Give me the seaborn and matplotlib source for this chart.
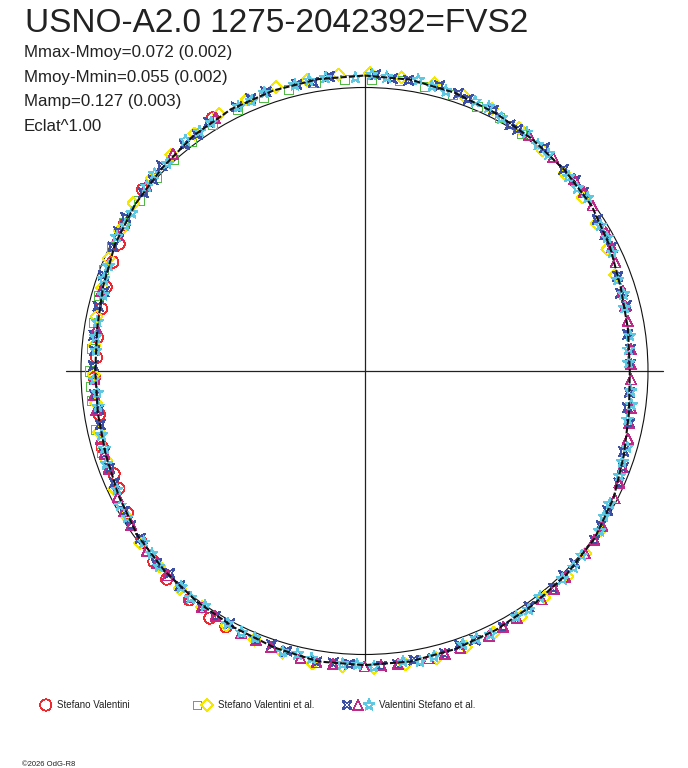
import numpy as np
import pandas as pd
import matplotlib
matplotlib.use("Agg")
import matplotlib.pyplot as plt
from matplotlib.path import Path
from matplotlib.patches import Circle
import seaborn as sns

# ---------------- data (phase, magnitude relative to mean) ----------------
TITLE = "USNO-A2.0 1275-2042392=FVS2"
STATS = ["Mmax-Mmoy=0.072 (0.002)", "Mmoy-Mmin=0.055 (0.002)",
         "Mamp=0.127 (0.003)", "Eclat^1.00"]
LEGEND_LABELS = ["Stefano Valentini", "Stefano Valentini et al.",
                 "Valentini Stefano et al."]
COPYRIGHT = "©2026 OdG-R8"

# fitted light curve
curve_phase = [0.000, 0.025, 0.050, 0.075, 0.100, 0.125, 0.150, 0.175, 0.200, 0.225,
               0.250, 0.275, 0.300, 0.325, 0.350, 0.375, 0.400, 0.425, 0.450, 0.475,
               0.500, 0.525, 0.550, 0.575, 0.600, 0.625, 0.650, 0.675, 0.700, 0.725,
               0.750, 0.775, 0.800, 0.825, 0.850, 0.875, 0.900, 0.925, 0.950, 0.975]
curve_mag = [-0.045, -0.043, -0.034, -0.022, -0.010, 0.000, 0.010, 0.032, 0.055, 0.066,
             0.072, 0.062, 0.042, 0.015, -0.004, -0.012, -0.018, -0.026, -0.034, -0.040,
             -0.040, -0.040, -0.028, -0.016, -0.006, 0.003, 0.012, 0.030, 0.045, 0.053,
             0.056, 0.050, 0.034, 0.014, 0.000, -0.012, -0.028, -0.039, -0.043, -0.045]

# Stefano Valentini (red circles)
sv_phase = [0.579, 0.589, 0.604, 0.621, 0.633, 0.646, 0.664, 0.679, 0.688, 0.705, 0.724,
            0.746, 0.758, 0.770, 0.787, 0.800, 0.815, 0.826, 0.837, 0.859, 0.914]
sv_mag = [-0.028, -0.030, -0.018, -0.014, -0.002, 0.008, 0.028, 0.044, 0.050, 0.040, 0.058,
          0.052, 0.060, 0.056, 0.052, 0.046, 0.036, 0.028, 0.008, -0.012, -0.044]

# Stefano Valentini et al. (green squares)
sva_g_phase = [0.702, 0.716, 0.733, 0.741, 0.750, 0.763, 0.778, 0.794, 0.809, 0.823,
               0.838, 0.853, 0.869, 0.883, 0.897, 0.912, 0.928, 0.944, 0.958, 0.973,
               0.989, 0.004, 0.019, 0.033, 0.049, 0.064, 0.078, 0.093]
sva_g_mag = [0.033, 0.034, 0.034, 0.037, 0.035, 0.039, 0.031, 0.026, 0.012, 0.006,
             0.001, 0.003, -0.003, -0.008, -0.015, -0.025, -0.028, -0.032, -0.031, -0.036,
             -0.033, -0.031, -0.034, -0.027, -0.025, -0.016, -0.013, -0.003]

# Stefano Valentini et al. (yellow diamonds)
sva_y_phase = [0.003, 0.020, 0.038, 0.055, 0.072, 0.090, 0.108, 0.126, 0.143, 0.160,
               0.176, 0.192, 0.344, 0.360, 0.376, 0.393, 0.410, 0.427, 0.444, 0.461,
               0.478, 0.495, 0.512, 0.528, 0.545, 0.562, 0.579, 0.596, 0.612, 0.629,
               0.646, 0.663, 0.680, 0.697, 0.714, 0.731, 0.748, 0.765, 0.782, 0.799,
               0.816, 0.833, 0.850, 0.867, 0.884, 0.901, 0.918, 0.935, 0.952, 0.969, 0.986]
sva_y_mag = [-0.053, -0.047, -0.047, -0.035, -0.029, -0.017, -0.001, 0.009, 0.019, 0.033,
             0.046, 0.060, -0.005, -0.011, -0.020, -0.021, -0.030, -0.032, -0.040, -0.047,
             -0.047, -0.051, -0.048, -0.050, -0.037, -0.026, -0.022, -0.011, -0.008, 0.000,
             0.003, 0.018, 0.027, 0.041, 0.044, 0.051, 0.050, 0.048, 0.039, 0.032,
             0.015, 0.006, -0.008, -0.013, -0.025, -0.032, -0.044, -0.046, -0.052, -0.049, -0.052]

# Valentini Stefano et al. (blue)
vsa_b_phase = [0.006, 0.024, 0.041, 0.058, 0.073, 0.090, 0.108, 0.124, 0.141, 0.158,
               0.176, 0.193, 0.211, 0.228, 0.246, 0.263, 0.281, 0.298, 0.316, 0.333,
               0.351, 0.368, 0.386, 0.403, 0.421, 0.438, 0.456, 0.473, 0.491, 0.508,
               0.526, 0.543, 0.561, 0.578, 0.596, 0.613, 0.631, 0.648, 0.666, 0.683,
               0.701, 0.718, 0.736, 0.753, 0.771, 0.788, 0.806, 0.823, 0.841, 0.858,
               0.876, 0.893, 0.911, 0.928, 0.946, 0.963, 0.981,
               0.015, 0.052, 0.085, 0.133, 0.168, 0.203, 0.237, 0.272, 0.307, 0.342,
               0.377, 0.412, 0.447, 0.482, 0.517, 0.552, 0.587, 0.622, 0.657, 0.692,
               0.727, 0.762, 0.797, 0.832, 0.867, 0.902, 0.937, 0.972]
vsa_b_mag = [-0.049, -0.040, -0.043, -0.028, -0.028, -0.011, -0.014, 0.001, 0.003, 0.022,
             0.029, 0.051, 0.054, 0.070, 0.069, 0.071, 0.052, 0.047, 0.021, 0.011,
             -0.010, -0.007, -0.017, -0.015, -0.030, -0.028, -0.039, -0.037, -0.046, -0.038,
             -0.043, -0.027, -0.028, -0.012, -0.012, 0.001, -0.001, 0.015, 0.020, 0.037,
             0.040, 0.054, 0.050, 0.048, 0.041, 0.036, 0.020, 0.012, -0.002, -0.002,
             -0.018, -0.021, -0.037, -0.038, -0.047, -0.041, -0.049,
             -0.038, -0.036, -0.009, -0.003, 0.028, 0.062, 0.066, 0.071, 0.028, 0.004,
             -0.007, -0.025, -0.025, -0.046, -0.038, -0.021, -0.014, 0.010, 0.011, 0.042,
             0.059, 0.050, 0.044, 0.004, -0.006, -0.023, -0.044, -0.037]

# Valentini Stefano et al. (magenta triangles)
vsa_m_phase = [0.097, 0.115, 0.132, 0.150, 0.167, 0.185, 0.202, 0.220, 0.237, 0.255,
               0.272, 0.290, 0.307, 0.325, 0.342, 0.360, 0.377, 0.395, 0.412, 0.430,
               0.447, 0.465, 0.482, 0.500, 0.517, 0.535, 0.552, 0.570, 0.587, 0.605,
               0.622, 0.640, 0.657, 0.675, 0.692, 0.710, 0.727, 0.745, 0.775, 0.797,
               0.830, 0.862, 0.885, 0.915,
               0.141, 0.176, 0.211, 0.246, 0.281, 0.316, 0.351, 0.386, 0.421, 0.456,
               0.491, 0.526, 0.561, 0.596, 0.631, 0.666, 0.701, 0.736]
vsa_m_mag = [-0.015, -0.006, -0.003, 0.007, 0.020, 0.039, 0.051, 0.061, 0.063, 0.066,
             0.057, 0.045, 0.031, 0.010, -0.001, -0.011, -0.015, -0.022, -0.025, -0.034,
             -0.035, -0.042, -0.043, -0.045, -0.042, -0.039, -0.030, -0.023, -0.013, -0.008,
             -0.001, 0.003, 0.015, 0.026, 0.037, 0.043, 0.049, 0.052, 0.048, 0.032,
             0.008, -0.010, -0.023, -0.038,
             0.002, 0.027, 0.058, 0.066, 0.054, 0.019, -0.006, -0.020, -0.028, -0.041,
             -0.042, -0.045, -0.026, -0.014, 0.003, 0.019, 0.042, 0.048]

# Valentini Stefano et al. (cyan stars)
vsa_c_phase = [0.012, 0.029, 0.045, 0.062, 0.079, 0.095, 0.112, 0.129, 0.145, 0.162,
               0.179, 0.195, 0.212, 0.229, 0.245, 0.262, 0.279, 0.295, 0.312, 0.329,
               0.345, 0.362, 0.379, 0.395, 0.412, 0.429, 0.445, 0.462, 0.479, 0.495,
               0.512, 0.529, 0.545, 0.562, 0.579, 0.595, 0.612, 0.629, 0.645, 0.662,
               0.679, 0.695, 0.712, 0.729, 0.745, 0.762, 0.779, 0.795, 0.812, 0.829,
               0.845, 0.862, 0.879, 0.895, 0.912, 0.929, 0.945, 0.962, 0.979, 0.995,
               0.004, 0.037, 0.070, 0.104, 0.137, 0.170, 0.204, 0.237, 0.270, 0.304,
               0.337, 0.370, 0.404, 0.437, 0.470, 0.504, 0.537, 0.570, 0.604, 0.637,
               0.670, 0.704, 0.737, 0.770, 0.804, 0.837, 0.870, 0.904, 0.937, 0.970]
vsa_c_mag = [-0.042, -0.047, -0.030, -0.030, -0.016, -0.019, -0.004, 0.007, 0.004, 0.024,
             0.035, 0.057, 0.062, 0.062, 0.077, 0.065, 0.063, 0.039, 0.030, 0.017,
             -0.004, -0.005, -0.014, -0.010, -0.020, -0.032, -0.026, -0.039, -0.036, -0.047,
             -0.039, -0.033, -0.034, -0.019, -0.015, -0.001, 0.000, -0.001, 0.016, 0.019,
             0.036, 0.035, 0.050, 0.058, 0.051, 0.056, 0.046, 0.044, 0.026, 0.007,
             0.009, -0.008, -0.011, -0.032, -0.032, -0.035, -0.046, -0.041, -0.046, -0.038,
             -0.049, -0.034, -0.031, -0.006, 0.011, 0.026, 0.053, 0.074, 0.057, 0.040,
             0.012, -0.012, -0.023, -0.025, -0.046, -0.038, -0.028, -0.020, -0.009, 0.012,
             0.019, 0.048, 0.060, 0.049, 0.027, 0.012, -0.017, -0.028, -0.035, -0.047]

# ---------------- styles ----------------
RED, GREEN, YELLOW = "#ec2a30", "#52bb46", "#f4e800"
BLUE, MAGENTA, CYAN = "#3c50a6", "#bf2a88", "#5ec8e2"
AXCOL = "#222222"
MLW = 0.55

concave = Path([(-1, -1), (0, -0.45), (1, -1), (0.45, 0), (1, 1), (0, 0.45),
                (-1, 1), (-0.45, 0), (-1, -1)],
               [Path.MOVETO] + [Path.LINETO] * 7 + [Path.CLOSEPOLY])

series = [
    (sv_phase, sv_mag, "o", RED, 66),
    (sva_g_phase, sva_g_mag, "s", GREEN, 44),
    (sva_y_phase, sva_y_mag, "D", YELLOW, 38),
    (vsa_b_phase, vsa_b_mag, concave, BLUE, 46),
    (vsa_m_phase, vsa_m_mag, "^", MAGENTA, 52),
    (vsa_c_phase, vsa_c_mag, "*", CYAN, 72),
]


def to_frame(phase, mag):
    phase = np.asarray(phase, float)
    flux = 10 ** (-0.4 * np.asarray(mag, float))   # Eclat^1.00
    ang = 2 * np.pi * phase
    return pd.DataFrame({"x": flux * np.sin(ang), "y": flux * np.cos(ang)})


sns.set_theme(style="white")
plt.rcParams["font.family"] = ["Liberation Sans", "DejaVu Sans"]

W, H = 688, 768
fig = plt.figure(figsize=(W / 100, H / 100), dpi=100)
fig.patch.set_facecolor("white")

R_PX, CX, CY = 283.5, 364.5, 371.0
L = 1.12
ax = fig.add_axes([(CX - L * R_PX) / W, (H - CY - L * R_PX) / H,
                   2 * L * R_PX / W, 2 * L * R_PX / H])
ax.set_xlim(-L, L)
ax.set_ylim(-L, L)
ax.set_aspect("equal")
ax.axis("off")

# cross and reference circle
ax.plot([-1.053, 1.053], [0, 0], color=AXCOL, lw=0.9, zorder=1)
ax.plot([0, 0], [-1.03, 1.045], color=AXCOL, lw=0.9, zorder=1)
ax.add_patch(Circle((0, 0), 1.0, fill=False, ec="#111111", lw=0.8, zorder=1))

for ph, mg, mk, col, s in series:
    df = to_frame(ph, mg)
    sns.scatterplot(data=df, x="x", y="y", ax=ax, marker=mk, s=s, color=col,
                    facecolor="none", edgecolor=col, linewidth=MLW, zorder=3,
                    antialiased=False, legend=False)

cdf = to_frame(curve_phase + curve_phase[:1], curve_mag + curve_mag[:1])
sns.lineplot(data=cdf, x="x", y="y", ax=ax, sort=False, estimator=None,
             color="#111111", lw=1.5, dashes=False, zorder=4, legend=False)
ax.lines[-1].set_linestyle((0, (3, 1)))

# ---------------- texts ----------------
def px(x, y):
    return x / W, 1 - y / H

fig.text(*px(25, 32), TITLE, fontsize=24, color="#222222", va="baseline")
for i, line in enumerate(STATS):
    fig.text(*px(24, 57 + 24.6 * i), line, fontsize=12.2, color="#222222", va="baseline")

# legend overlay in pixel coordinates
lg = fig.add_axes([0, 0, 1, 1])
lg.set_xlim(0, W)
lg.set_ylim(H, 0)
lg.axis("off")
lg.patch.set_alpha(0)
leg_y = 705
leg_marks = [[(45.7, "o", RED, 66)],
             [(197, "s", GREEN, 34), (207, "D", YELLOW, 38)],
             [(347, concave, BLUE, 40), (358, "^", MAGENTA, 52), (369, "*", CYAN, 72)]]
leg_text_x = [57, 218, 379]
for marks, tx, lab in zip(leg_marks, leg_text_x, LEGEND_LABELS):
    for mx, mk, col, s in marks:
        lg.scatter([mx], [leg_y], marker=mk, s=s, facecolor="none", edgecolor=col,
                   linewidth=MLW, antialiased=False)
    lg.text(tx, leg_y, lab, fontsize=7, color="#222222", va="center", ha="left")

fig.text(*px(22, 766), COPYRIGHT, fontsize=5.5, color="#222222", va="baseline")

fig.savefig("out.png", dpi=100, facecolor="white")
